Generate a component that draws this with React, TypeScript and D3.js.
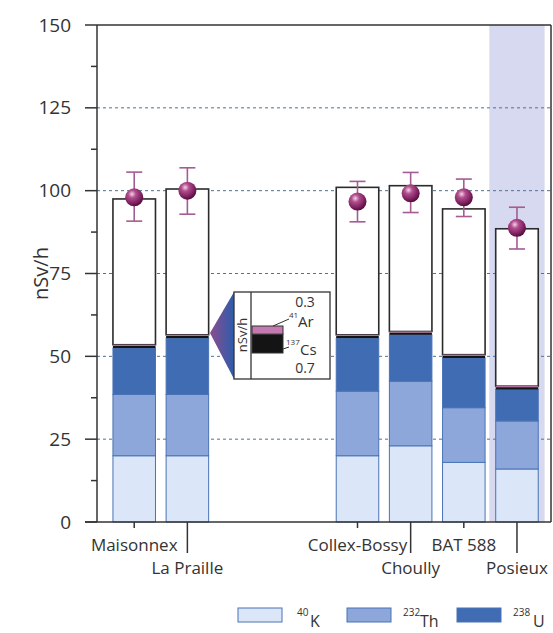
import * as d3 from "d3";

const sites = ["Maisonnex", "La Praille", "Collex-Bossy", "Choully", "BAT 588", "Posieux"];
// position of each site along the x axis (gap between the two groups)
const sitePos = [0, 1, 4.2, 5.2, 6.2, 7.2];
const labelRow = [0, 1, 0, 1, 0, 1];

const k40 = [20, 20, 20, 23, 18, 16];
const th232 = [18.5, 18.5, 19.5, 19.5, 16.5, 14.5];
const u238 = [14, 17, 16, 14, 15, 9.5];
const cs137 = 0.7;
const ar41 = 0.3;
const totals = [97.5, 100.5, 101, 101.5, 94.5, 88.5];

const measured = [98, 100, 96.7, 99.2, 98, 88.8];
const errLo = [90.8, 92.9, 90.6, 93.4, 92.2, 82.4];
const errHi = [105.6, 106.9, 102.8, 105.5, 103.5, 95];

const yTicks = [0, 25, 50, 75, 100, 125, 150];
const gridTicks = [25, 50, 75, 100, 125];
const minorTicks = [12.5, 37.5, 62.5, 87.5, 112.5, 137.5];

const colK = "#dbe7f8";
const colTh = "#8ea7da";
const colU = "#3f6cb3";
const colEdge = "#4a73b6";
const colCs = "#141414";
const colAr = "#c47ab0";
const font = "'Open Sans', sans-serif";

export default function App() {
  const width = 553;
  const height = 633;
  const left = 97;
  const right = 551;
  const top = 25;
  const bottom = 522;

  const x = d3.scaleLinear().domain([-0.7, 7.84]).range([left, right]);
  const y = d3.scaleLinear().domain([0, 150]).range([bottom, top]);
  const bw = x(0.8) - x(0);

  const stacks = sites.map((s, i) => {
    const segs = [
      { v: k40[i], fill: colK, stroke: colEdge },
      { v: th232[i], fill: colTh, stroke: colEdge },
      { v: u238[i], fill: colU, stroke: colEdge },
      { v: cs137, fill: colCs, stroke: "none" },
      { v: ar41, fill: colAr, stroke: "none" },
    ];
    let acc = 0;
    const out = segs.map((d) => {
      const y0 = acc;
      acc += d.v;
      return { ...d, y0, y1: acc };
    });
    return { site: s, segs: out, top: acc, total: totals[i] };
  });

  // inset
  const inset = { x0: 234, x1: 330, y0: 292, y1: 379, div: 251 };
  const yi = d3.scaleLinear().domain([0, 1]).range([353, 326]);
  const insetBar = [
    { v0: 0, v1: cs137, fill: colCs },
    { v0: cs137, v1: cs137 + ar41, fill: colAr },
  ];

  const shadeIdx = 5;

  return (
    <svg
      width={width}
      height={height}
      style={{ position: "absolute", left: 0, top: 0, background: "#fff" }}
      fontFamily={font}
    >
      <defs>
        <radialGradient id="ball" cx="0.38" cy="0.32" r="0.7">
          <stop offset="0" stopColor="#f6d2e8" />
          <stop offset="0.3" stopColor="#b24f8e" />
          <stop offset="0.75" stopColor="#7c1f5e" />
          <stop offset="1" stopColor="#4e0d3a" />
        </radialGradient>
        <linearGradient id="tri" x1="0" x2="1" y1="0" y2="0">
          <stop offset="0" stopColor="#8a4d8e" />
          <stop offset="1" stopColor="#2d5cab" />
        </linearGradient>
      </defs>

      {/* shaded site */}
      <rect
        x={x(sitePos[shadeIdx] - 0.52)}
        y={top}
        width={x(1.04) - x(0)}
        height={bottom - top}
        fill="#d6d9ef"
      />

      {/* grid */}
      {gridTicks.map((t) => (
        <line
          key={t}
          x1={left}
          x2={right}
          y1={y(t)}
          y2={y(t)}
          stroke="#52708f"
          strokeWidth={1}
          strokeDasharray="3,3"
        />
      ))}

      {/* bars */}
      {stacks.map((st, i) => {
        const cx = x(sitePos[i]);
        return (
          <g key={st.site}>
            <rect
              x={cx - bw / 2}
              y={y(st.total)}
              width={bw}
              height={y(st.top) - y(st.total)}
              fill="#fff"
              stroke="#2b2b2b"
              strokeWidth={1.6}
            />
            {st.segs.map((d, j) => (
              <rect
                key={j}
                x={cx - bw / 2}
                y={y(d.y1)}
                width={bw}
                height={y(d.y0) - y(d.y1)}
                fill={d.fill}
                stroke={d.stroke}
                strokeWidth={1}
              />
            ))}
          </g>
        );
      })}

      {/* measured values */}
      {sites.map((s, i) => {
        const cx = x(sitePos[i]);
        return (
          <g key={s} stroke="#a55b93" strokeWidth={1.6}>
            <line x1={cx} x2={cx} y1={y(errLo[i])} y2={y(errHi[i])} />
            <line x1={cx - 8} x2={cx + 8} y1={y(errLo[i])} y2={y(errLo[i])} />
            <line x1={cx - 8} x2={cx + 8} y1={y(errHi[i])} y2={y(errHi[i])} />
            <circle cx={cx} cy={y(measured[i])} r={9} fill="url(#ball)" stroke="none" />
          </g>
        );
      })}

      {/* frame */}
      <line x1={left} x2={right} y1={top} y2={top} stroke="#333" strokeWidth={1.5} />
      <line x1={right} x2={right} y1={top} y2={bottom} stroke="#333" strokeWidth={1.5} />
      <line x1={left} x2={left} y1={top} y2={bottom} stroke="#333" strokeWidth={1.5} />
      <line x1={85} x2={right} y1={bottom} y2={bottom} stroke="#333" strokeWidth={1.5} />

      {/* y axis */}
      {yTicks.map((t) => (
        <g key={t}>
          <line x1={85} x2={left} y1={y(t)} y2={y(t)} stroke="#333" strokeWidth={1.5} />
          <text
            x={71}
            y={y(t)}
            dy="0.35em"
            textAnchor="end"
            fontSize={19}
            fill="#333"
          >
            {t}
          </text>
        </g>
      ))}
      {minorTicks.map((t) => (
        <line key={t} x1={91} x2={left} y1={y(t)} y2={y(t)} stroke="#333" strokeWidth={1.5} />
      ))}
      <text
        transform={`translate(48,${y(75)}) rotate(-90)`}
        textAnchor="middle"
        fontSize={20}
        fill="#333"
      >
        nSv/h
      </text>

      {/* x axis */}
      {sites.map((s, i) => {
        const cx = x(sitePos[i]);
        const row = labelRow[i];
        return (
          <g key={s}>
            <line
              x1={cx}
              x2={cx}
              y1={bottom}
              y2={row === 0 ? bottom + 6 : bottom + 31}
              stroke="#333"
              strokeWidth={1.5}
            />
            <text
              x={cx}
              y={row === 0 ? 551 : 574}
              textAnchor="middle"
              fontSize={17}
              fill="#333"
            >
              {s}
            </text>
          </g>
        );
      })}

      {/* inset */}
      <polygon
        points={`210,333 ${inset.x0},${inset.y0} ${inset.x0},${inset.y1}`}
        fill="url(#tri)"
      />
      <rect
        x={inset.x0}
        y={inset.y0}
        width={inset.x1 - inset.x0}
        height={inset.y1 - inset.y0}
        fill="#fff"
        stroke="#333"
        strokeWidth={1.3}
      />
      <line x1={inset.div} x2={inset.div} y1={inset.y0} y2={inset.y1} stroke="#333" strokeWidth={1.3} />
      <text
        transform={`translate(247,335) rotate(-90)`}
        textAnchor="middle"
        fontSize={13}
        fill="#333"
      >
        nSv/h
      </text>
      {insetBar.map((d, j) => (
        <rect
          key={j}
          x={252}
          y={yi(d.v1)}
          width={31}
          height={yi(d.v0) - yi(d.v1)}
          fill={d.fill}
          stroke="#333"
          strokeWidth={1}
        />
      ))}
      <text x={305} y={307} textAnchor="middle" fontSize={14} fill="#333">
        {ar41.toFixed(1)}
      </text>
      <text x={305} y={373} textAnchor="middle" fontSize={14} fill="#333">
        {cs137.toFixed(1)}
      </text>
      <line x1={273} x2={289} y1={yi(cs137 + ar41)} y2={319} stroke="#333" strokeWidth={1} />
      <text x={289} y={318} fontSize={8} fill="#333">41</text>
      <text x={298} y={327} fontSize={15} fill="#333">Ar</text>
      <line x1={283} x2={289} y1={349} y2={347} stroke="#333" strokeWidth={1} />
      <text x={286} y={345} fontSize={8} fill="#333">137</text>
      <text x={300} y={355} fontSize={15} fill="#333">Cs</text>

      {/* legend */}
      {[
        { x0: 238, fill: colK, sup: "40", supX: 297, lab: "K", labX: 310 },
        { x0: 347, fill: colTh, sup: "232", supX: 403, lab: "Th", labX: 420 },
        { x0: 457, fill: colU, sup: "238", supX: 513, lab: "U", labX: 533 },
      ].map((d) => (
        <g key={d.lab}>
          <rect x={d.x0} y={608} width={44} height={14} fill={d.fill} stroke={colEdge} strokeWidth={1} />
          <text x={d.supX} y={616} fontSize={10} fill="#333">{d.sup}</text>
          <text x={d.labX} y={627} fontSize={16} fill="#333">{d.lab}</text>
        </g>
      ))}
    </svg>
  );
}
